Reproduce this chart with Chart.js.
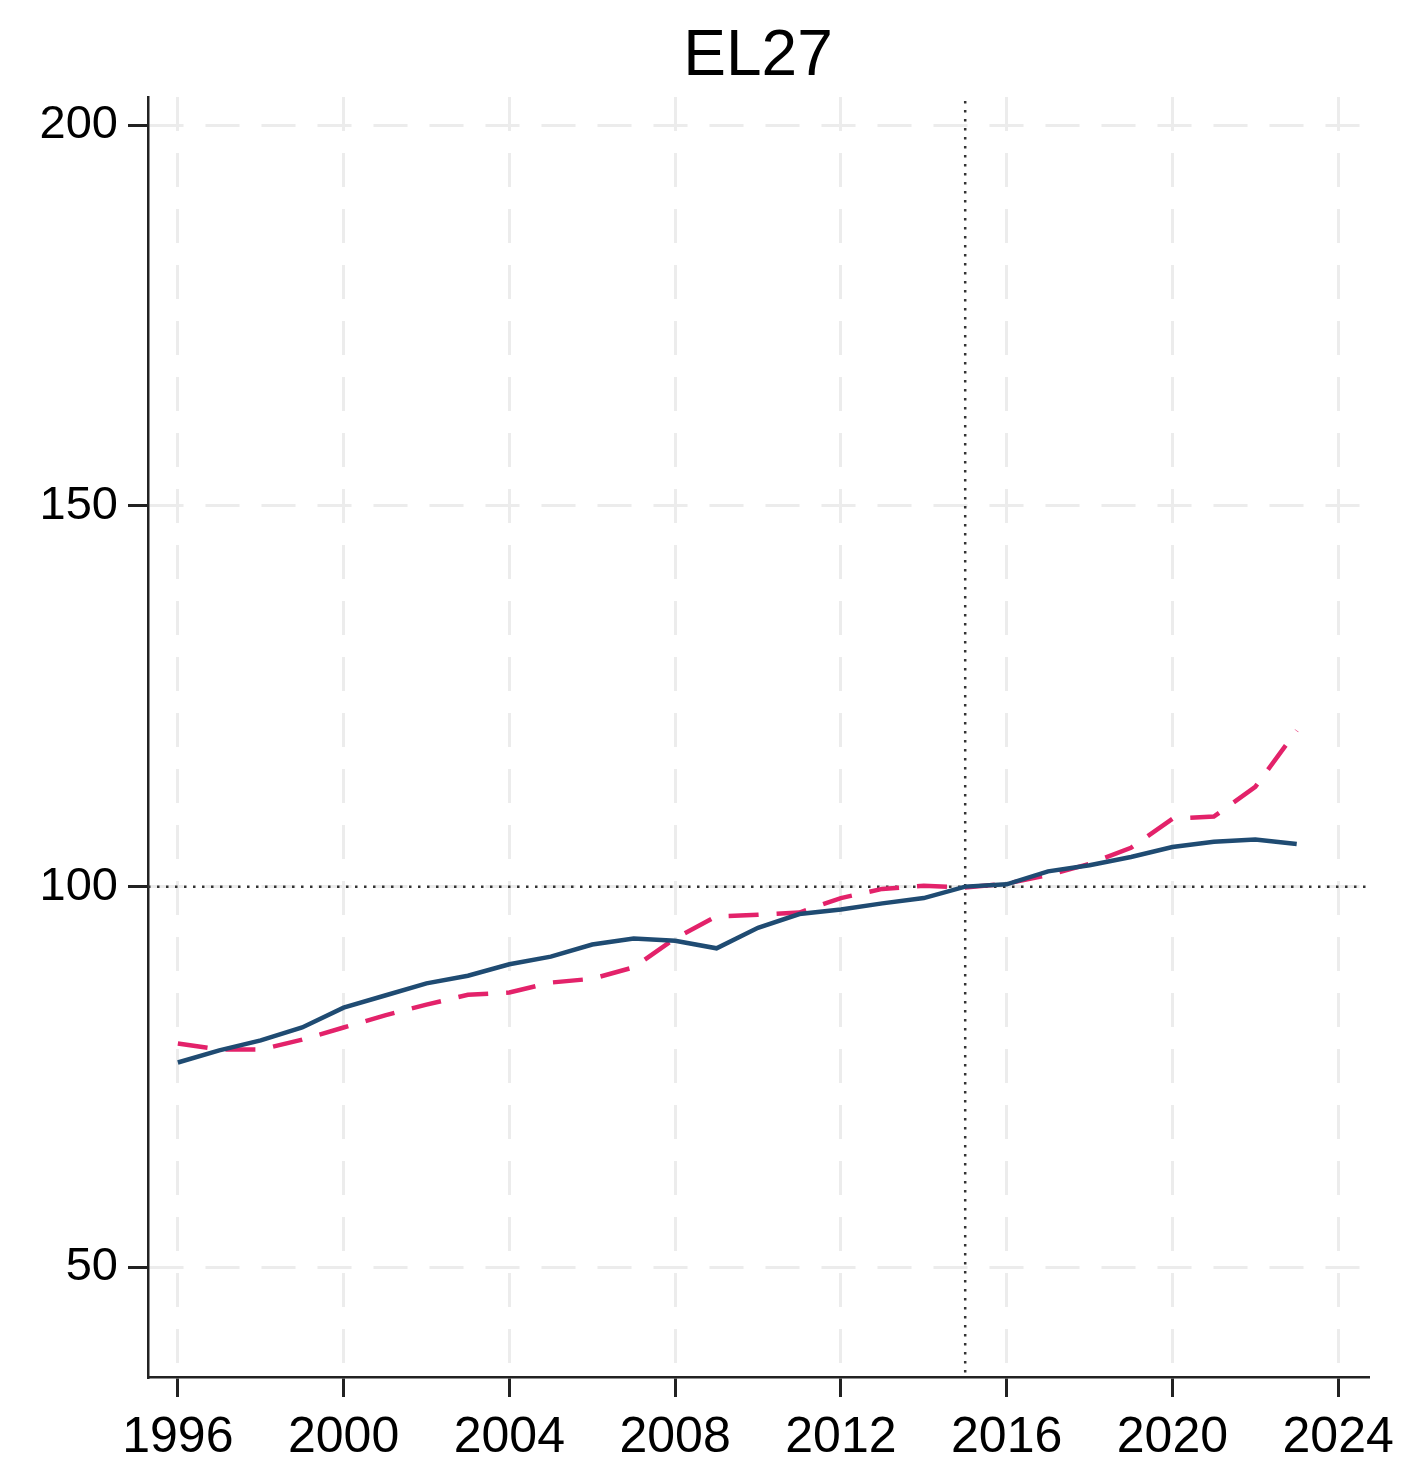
<!DOCTYPE html>
<html>
<head>
<meta charset="utf-8">
<script src="https://cdn.jsdelivr.net/npm/chart.js@4/dist/chart.umd.min.js"></script>
<style>
  html, body { margin: 0; padding: 0; background: #fff; }
  #wrap { width: 1417px; height: 1473px; }
</style>
</head>
<body>
<div id="wrap"><canvas id="chart" width="1417" height="1473"></canvas></div>
<script>
const title = 'EL27';
const years = [1996,1997,1998,1999,2000,2001,2002,2003,2004,2005,2006,2007,2008,2009,
  2010,2011,2012,2013,2014,2015,2016,2017,2018,2019,2020,2021,2022,2023];
const solidSeries = [76.9,78.5,79.8,81.5,84.1,85.7,87.3,88.3,89.8,90.8,92.4,93.2,92.9,91.9,
  94.6,96.4,97.0,97.8,98.5,100.0,100.3,102.0,102.8,103.9,105.2,105.9,106.2,105.6];
const dashedSeries = [79.4,78.6,78.6,79.9,81.5,83.1,84.5,85.8,86.1,87.4,87.9,89.4,93.2,96.1,
  96.3,96.6,98.5,99.7,100.1,99.9,100.4,101.5,103.0,105.1,108.9,109.2,113.1,120.5];
const xTicks = [1996,2000,2004,2008,2012,2016,2020,2024];
const yTicks = [50,100,150,200];
const baseYear = 2015;
const baseValue = 100;

const font = 'Liberation Sans, Arial, sans-serif';

// dotted reference lines at base year / base value, plus the title over the plot area
const refLines = {
  id: 'refLines',
  beforeDatasetsDraw(chart) {
    const { ctx, chartArea: a, scales: { x, y } } = chart;
    ctx.save();
    ctx.strokeStyle = '#333';
    ctx.lineWidth = 2.5;
    ctx.setLineDash([2.5, 6.5]);
    const px = x.getPixelForValue(baseYear);
    ctx.beginPath(); ctx.moveTo(px, a.top + 4); ctx.lineTo(px, a.bottom); ctx.stroke();
    const py = y.getPixelForValue(baseValue);
    ctx.beginPath(); ctx.moveTo(a.left, py); ctx.lineTo(a.right, py); ctx.stroke();
    ctx.restore();
  },
  afterDraw(chart) {
    const { ctx, chartArea: a } = chart;
    ctx.save();
    ctx.fillStyle = '#000';
    ctx.font = '64px ' + font;
    ctx.textAlign = 'center';
    ctx.textBaseline = 'alphabetic';
    ctx.fillText(title, (a.left + a.right) / 2, 75);
    ctx.restore();
  }
};

new Chart(document.getElementById('chart'), {
  type: 'line',
  data: {
    datasets: [
      { label: 'solid', data: years.map((yr, i) => ({ x: yr, y: solidSeries[i] })),
        borderColor: '#1f4b72', borderWidth: 4.5, pointRadius: 0, tension: 0, fill: false },
      { label: 'dashed', data: years.map((yr, i) => ({ x: yr, y: dashedSeries[i] })),
        borderColor: '#e3226a', borderWidth: 4.5, borderDash: [30, 18], pointRadius: 0, tension: 0, fill: false }
    ]
  },
  options: {
    responsive: false,
    animation: false,
    layout: { padding: { top: 97, right: 49, left: 0, bottom: 0 } },
    plugins: { legend: { display: false }, title: { display: false }, tooltip: { enabled: false } },
    scales: {
      x: {
        type: 'linear', min: 1995.28, max: 2024.72,
        afterBuildTicks: s => { s.ticks = xTicks.map(v => ({ value: v })); },
        afterFit: s => { s.height = 96; },
        ticks: { color: '#000', font: { family: font, size: 50 }, padding: 11, maxRotation: 0, autoSkip: false,
          callback: v => String(v) },
        grid: { color: '#ececec', lineWidth: 3, tickColor: '#222', tickWidth: 3, tickLength: 20, drawOnChartArea: true },
        border: { display: true, color: '#222', width: 2.5, dash: [34, 22] }
      },
      y: {
        type: 'linear', min: 35.6, max: 203.7,
        afterBuildTicks: s => { s.ticks = yTicks.map(v => ({ value: v })); },
        afterFit: s => { s.width = 148; },
        ticks: { color: '#000', font: { family: font, size: 47 }, padding: 10, autoSkip: false,
          callback: v => String(v) },
        grid: { color: '#ececec', lineWidth: 3, tickColor: '#222', tickWidth: 3, tickLength: 20 },
        border: { display: true, color: '#222', width: 2.5, dash: [34, 22] }
      }
    }
  },
  plugins: [refLines]
});
</script>
</body>
</html>
